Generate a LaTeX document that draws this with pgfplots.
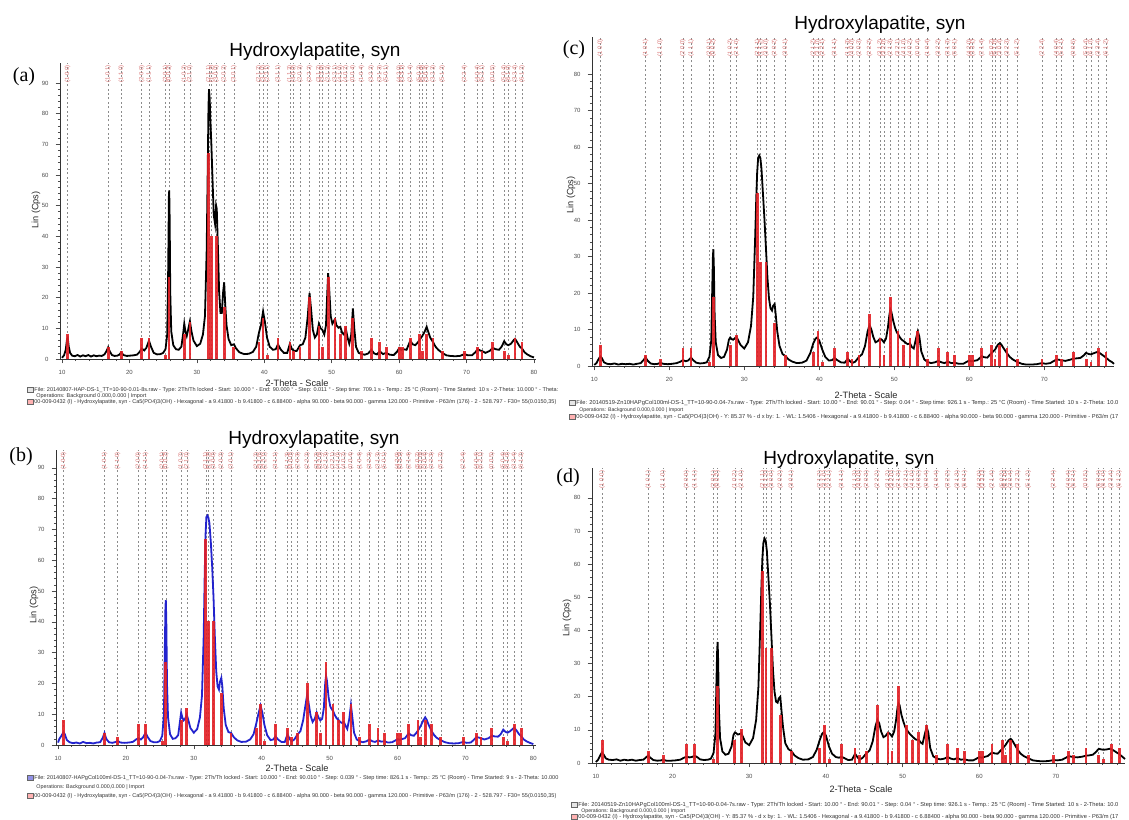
\documentclass[border=0pt]{standalone}
\usepackage{fontspec}
\setmainfont{Liberation Sans}
\newfontfamily\serifface{Liberation Serif}
\usepackage{pgfplots}
\usepackage{pgfplotstable}
\pgfplotsset{compat=1.18}
\definecolor{stickred}{RGB}{226,30,36}
\definecolor{lblred}{RGB}{218,120,120}
\definecolor{curveblue}{RGB}{35,35,205}

% reference pattern 00-009-0432: 2theta, stick heights for panels (a,b), (c), (d)
\pgfplotstableread{
x a c d
10.82 8.0 5.7 7.0
16.84 4.0 2.9 3.5
18.78 2.7 1.9 2.3
21.82 6.7 4.8 5.8
22.90 6.7 4.8 5.8
25.35 1.3 1.0 1.2
25.88 26.8 19.0 23.2
28.13 8.0 5.7 7.0
28.97 12.1 8.6 10.4
31.77 67.0 47.5 58.0
32.20 40.2 28.5 34.8
32.90 40.2 28.5 34.8
34.05 16.8 11.9 14.5
35.48 4.0 2.9 3.5
39.20 5.4 3.8 4.6
39.82 13.4 9.5 11.6
40.45 1.3 1.0 1.2
42.03 6.7 4.8 5.8
43.80 5.4 3.8 4.6
44.37 2.7 1.9 2.3
45.30 4.0 2.9 3.5
46.71 20.1 14.3 17.4
48.10 10.7 7.6 9.3
48.62 4.0 2.9 3.5
49.47 26.8 19.0 23.2
50.49 13.4 9.5 11.6
51.28 8.0 5.7 7.0
52.10 10.7 7.6 9.3
53.14 13.4 9.5 11.6
54.44 2.7 1.9 2.3
55.88 6.7 4.8 5.8
57.13 5.4 3.8 4.6
58.07 4.0 2.9 3.5
60.02 4.0 2.9 3.5
60.46 4.0 2.9 3.5
61.66 6.7 4.8 5.8
63.01 8.0 5.7 7.0
63.44 2.7 1.9 2.3
64.08 8.0 5.7 7.0
65.03 6.7 4.8 5.8
66.39 2.7 1.9 2.3
69.70 2.7 1.9 2.3
71.65 4.0 2.9 3.5
72.29 2.7 1.9 2.3
73.90 5.4 3.8 4.6
75.58 2.7 1.9 2.3
76.22 1.3 1.0 1.2
77.19 6.7 4.8 5.8
78.23 5.4 3.8 4.6
}\sticks

\pgfplotstableread[col sep=comma]{
x,l
10.82,(1 0 0)
16.84,(1 0 1)
18.78,(1 1 0)
21.82,(2 0 0)
22.90,(1 1 1)
25.35,(2 0 1)
25.88,(0 0 2)
28.13,(1 0 2)
28.97,(2 1 0)
31.77,(2 1 1)
32.20,(1 1 2)
32.90,(3 0 0)
34.05,(2 0 2)
35.48,(3 0 1)
39.20,(2 1 2)
39.82,(3 1 0)
40.45,(2 2 1)
42.03,(3 1 1)
43.80,(1 1 3)
44.37,(4 0 0)
45.30,(2 0 3)
46.71,(2 2 2)
48.10,(3 1 2)
48.62,(3 2 0)
49.47,(2 1 3)
50.49,(3 2 1)
51.28,(4 1 0)
52.10,(4 0 2)
53.14,(0 0 4)
54.44,(1 0 4)
55.88,(3 2 2)
57.13,(3 1 3)
58.07,(5 0 1)
60.02,(4 2 0)
60.46,(3 3 1)
61.66,(2 1 4)
63.01,(5 0 2)
63.44,(5 1 0)
64.08,(3 0 4)
65.03,(3 2 3)
66.39,(5 1 2)
69.70,(2 2 4)
71.65,(4 0 4)
72.29,(5 2 1)
73.90,(0 0 5)
75.58,(5 0 4)
76.22,(6 1 0)
77.19,(3 3 4)
78.23,(6 1 2)
}\hkl

\pgfplotstableread{
x y
10.0 0.4
10.3 1.2
10.55 3.0
10.75 6.5
10.85 6.8
11.0 4.0
11.2 2.0
11.5 1.1
11.9 0.9
12.3 1.3
12.7 0.8
13.1 1.2
13.5 0.9
13.9 1.3
14.3 0.8
14.7 1.2
15.1 0.9
15.5 1.1
15.9 1.0
16.3 1.5
16.6 2.6
16.84 3.8
17.1 2.4
17.4 1.3
17.8 1.0
18.2 1.1
18.5 1.4
18.78 2.2
19.1 1.3
19.6 1.0
20.1 1.1
20.6 1.2
21.1 1.4
21.5 2.3
21.82 3.4
22.2 2.8
22.5 3.6
22.9 6.0
23.2 4.0
23.6 2.0
24.1 1.5
24.6 1.6
25.0 2.0
25.35 3.2
25.6 8
25.75 30
25.85 53
25.9 55
25.97 45
26.05 22
26.2 9
26.5 4.5
26.9 3.2
27.3 3.0
27.7 4.0
27.95 8
28.13 11.5
28.3 9
28.5 7.5
28.7 9.5
28.97 12.3
29.2 9
29.5 6
30.0 4.2
30.5 5.0
30.9 8
31.2 14
31.45 35
31.6 60
31.72 82
31.8 88
31.9 85
32.0 78
32.15 70
32.3 60
32.5 47
32.7 44
32.85 50
32.95 49
33.1 38
33.3 22
33.5 15
33.7 15
33.9 22
34.05 25
34.2 18
34.4 11
34.7 6.5
35.1 4.5
35.5 4.8
35.8 3.5
36.3 2.2
37.0 1.6
37.7 1.7
38.3 2.3
38.8 4
39.2 8.5
39.5 11
39.82 15.5
40.1 12
40.4 7
40.8 4
41.3 3.0
41.7 3.2
42.03 4.8
42.4 3.2
42.9 2.0
43.4 2.0
43.8 5.0
44.1 3.2
44.4 2.7
44.8 2.6
45.3 4.5
45.7 4.8
46.1 7
46.45 14
46.71 21.5
46.95 16
47.2 9.5
47.5 7
47.8 8
48.1 11.5
48.35 10
48.62 9.5
48.9 8
49.15 11
49.35 22
49.47 28
49.6 24
49.85 14
50.1 11.5
50.35 12.5
50.49 13
50.7 11
51.0 10.2
51.28 10.5
51.55 8.5
51.8 8
52.1 9.8
52.35 7
52.6 5
52.9 8
53.14 16.5
53.35 10
53.6 4
54.0 2.0
54.44 1.6
54.9 1.4
55.4 1.8
55.88 3.0
56.3 1.8
56.7 1.5
57.13 2.5
57.6 1.6
58.07 2.0
58.6 1.4
59.2 1.3
59.7 2.4
60.02 3.6
60.3 3.0
60.6 3.2
61.1 3.0
61.66 6.0
62.0 4.8
62.4 4.5
62.8 5.5
63.1 6.5
63.44 7.5
63.8 9
64.08 10.5
64.3 9
64.6 7
65.03 5.5
65.4 4
65.8 3.0
66.4 2.0
67.0 1.2
67.6 1.0
68.3 0.9
69.0 1.0
69.7 1.6
70.2 1.2
70.8 1.2
71.3 2.2
71.65 3.2
72.0 2.8
72.29 2.6
72.8 2.0
73.4 2.6
73.9 3.6
74.3 3.2
74.8 3.0
75.2 4.0
75.58 5.8
75.9 4.8
76.2 4.5
76.6 5.0
77.0 6.2
77.19 6.6
77.5 5.5
77.9 4.0
78.23 3.4
78.6 2.2
79.0 1.5
79.5 0.9
80.0 0.5
}\curvea

\pgfplotstableread{
x y
10.0 0.8
10.2 2.0
10.5 3.0
10.8 4.2
11.0 3.5
11.3 1.6
11.7 0.9
12.2 0.6
12.7 0.8
13.2 0.5
13.7 1.0
14.2 0.6
14.7 0.7
15.2 0.5
15.7 0.8
16.2 0.9
16.6 2.4
16.84 3.9
17.1 2.0
17.5 0.9
18.0 0.7
18.5 1.0
18.78 1.3
19.2 0.8
19.8 0.7
20.4 0.8
21.0 1.0
21.5 1.8
21.82 2.2
22.2 1.8
22.5 2.4
22.9 4.0
23.2 2.6
23.6 1.3
24.1 0.9
24.6 0.9
25.0 1.3
25.35 3.0
25.6 10
25.72 30
25.82 45
25.88 47
25.95 40
26.05 20
26.2 9
26.5 3.5
26.9 2.0
27.3 2.2
27.7 3.2
27.95 7.5
28.13 10.5
28.3 9
28.5 8
28.7 8.5
28.97 9.8
29.2 8
29.5 5.5
30.0 4.0
30.5 5.2
30.9 9
31.2 16
31.45 35
31.6 55
31.72 68
31.85 74
32.0 74.5
32.15 73.8
32.3 72
32.5 66
32.7 58
32.9 48
33.1 35
33.3 24
33.5 19
33.7 18
33.85 20.5
34.05 21.8
34.2 19
34.4 12
34.7 6.5
35.1 4.2
35.5 3.9
35.9 2.5
36.4 1.5
37.0 1.0
37.7 1.1
38.3 1.8
38.8 3.5
39.2 7
39.5 10
39.82 12.8
40.1 10.5
40.4 6.5
40.8 3.2
41.3 1.6
41.7 1.8
42.03 2.8
42.4 1.8
42.9 1.0
43.4 1.0
43.8 3.5
44.1 2.0
44.4 1.2
44.8 1.8
45.3 3.5
45.7 4.5
46.1 8
46.45 13
46.71 16.5
46.95 13
47.2 9.5
47.5 7.5
47.8 8.5
48.1 10.5
48.35 9
48.62 8
48.9 8.5
49.15 12
49.35 20
49.47 22.5
49.6 21
49.85 15.5
50.1 12.5
50.35 11.5
50.49 11.2
50.7 10
51.0 8.8
51.28 8.2
51.55 7.5
51.8 7.2
52.1 7.5
52.35 6.2
52.6 5.2
52.9 8.5
53.14 13
53.35 9
53.6 4
54.0 1.8
54.44 1.2
54.9 0.9
55.4 1.2
55.88 1.8
56.3 1.2
56.7 1.0
57.13 1.5
57.6 1.1
58.07 1.2
58.6 0.8
59.2 0.9
59.7 1.5
60.02 1.9
60.3 1.7
60.6 1.9
61.1 2.2
61.66 3.8
62.0 3.2
62.4 3.0
62.8 4.0
63.1 5.0
63.44 6.3
63.8 8.0
64.08 9.0
64.3 8.2
64.6 6.5
65.03 4.5
65.4 3.2
65.8 2.3
66.4 1.5
67.0 0.9
67.6 0.6
68.3 0.5
69.0 0.6
69.7 1.0
70.2 0.7
70.8 0.8
71.3 1.8
71.65 2.6
72.0 2.4
72.29 2.2
72.8 1.8
73.4 2.2
73.9 3.0
74.3 2.8
74.8 2.7
75.2 3.5
75.58 5.0
75.9 4.3
76.2 4.0
76.6 4.5
77.0 5.3
77.19 5.6
77.5 4.8
77.9 3.5
78.23 2.8
78.6 1.8
79.0 1.2
79.5 0.7
80.0 0.3
}\curveb

\pgfplotstableread{
x y
10.0 0.3
10.3 0.8
10.55 1.8
10.8 2.6
11.0 2.2
11.3 1.0
11.7 0.6
12.2 0.5
12.7 0.7
13.2 0.4
13.7 0.6
14.2 0.5
14.7 0.6
15.2 0.4
15.7 0.6
16.2 0.8
16.6 1.7
16.84 2.4
17.1 1.5
17.5 0.7
18.0 0.5
18.5 0.6
18.78 0.9
19.2 0.6
19.8 0.5
20.4 0.6
21.0 0.8
21.5 1.2
21.82 1.6
22.2 1.3
22.5 1.5
22.9 2.3
23.2 1.6
23.6 0.9
24.1 0.7
24.6 0.8
25.0 1.0
25.35 2.5
25.6 7
25.72 20
25.82 30
25.88 32
25.95 27
26.05 14
26.2 6.5
26.5 3
26.9 2.2
27.3 2.5
27.7 4.5
27.95 7.2
28.13 7.8
28.3 7.4
28.5 7.2
28.7 7.5
28.97 8.0
29.2 7.0
29.5 5.8
30.0 4.8
30.5 6.5
30.9 11
31.2 19
31.45 35
31.6 46
31.72 53
31.85 57
32.0 57.7
32.15 57
32.3 54
32.5 47
32.7 40
32.9 32
33.1 24
33.3 18.5
33.5 15.8
33.7 15.2
33.85 16.5
34.05 17
34.2 14
34.4 9.5
34.7 5.5
35.1 3.3
35.5 2.7
35.9 1.8
36.4 1.2
37.0 0.8
37.7 0.9
38.3 1.5
38.8 3.5
39.2 6.2
39.5 7.5
39.7 7.8
40.0 7.0
40.4 4.5
40.8 2.5
41.3 1.5
41.7 1.6
42.03 2.2
42.4 1.6
42.9 1.0
43.4 0.9
43.8 2.0
44.1 1.3
44.4 0.8
44.8 1.2
45.3 2.5
45.7 3.2
46.1 5.5
46.45 9.5
46.71 11.2
46.95 10
47.2 8
47.5 6.5
47.8 6.8
48.1 7.5
48.35 7.2
48.62 6.5
48.9 7.5
49.15 10.5
49.35 14
49.47 15.5
49.6 15
49.85 12.5
50.1 10.5
50.35 9.2
50.49 8.8
50.7 8.0
51.0 7.2
51.28 6.8
51.55 6.3
51.8 6.0
52.1 6.2
52.35 5.2
52.6 4.8
52.9 7.5
53.14 9.5
53.35 8
53.6 4
54.0 1.8
54.44 1.1
54.9 0.8
55.4 1.0
55.88 1.4
56.3 1.0
56.7 0.8
57.13 1.2
57.6 0.8
58.07 0.9
58.6 0.6
59.2 0.6
59.7 1.2
60.02 1.5
60.3 1.3
60.6 1.4
61.1 1.6
61.66 2.7
62.0 2.4
62.4 2.3
62.8 3.2
63.1 3.8
63.44 4.5
63.8 5.8
64.08 6.3
64.3 5.8
64.6 4.8
65.03 3.5
65.4 2.5
65.8 1.8
66.4 1.1
67.0 0.6
67.6 0.4
68.3 0.4
69.0 0.5
69.7 0.8
70.2 0.6
70.8 0.8
71.3 1.4
71.65 1.8
72.0 1.7
72.29 1.6
72.8 1.4
73.4 1.7
73.9 2.0
74.3 2.1
74.8 2.2
75.2 2.8
75.58 3.6
75.9 3.3
76.2 3.2
76.6 3.5
77.0 3.8
77.19 3.8
77.5 3.4
77.9 2.8
78.23 2.3
78.6 1.6
79.0 1.1
79.3 0.6
}\curvec

\pgfplotstableread{
x y
10.0 0.3
10.3 1.0
10.55 2.2
10.8 3.2
11.0 2.6
11.3 1.4
11.7 1.0
12.2 0.9
12.7 1.1
13.2 0.7
13.7 1.0
14.2 0.8
14.7 1.0
15.2 0.7
15.7 0.9
16.2 1.0
16.6 1.8
16.84 2.3
17.1 1.6
17.5 0.9
18.0 0.7
18.5 0.8
18.78 1.0
19.2 0.7
19.8 0.7
20.4 0.8
21.0 1.0
21.5 1.6
21.82 1.9
22.2 1.7
22.5 1.8
22.9 2.2
23.2 1.8
23.6 1.1
24.1 0.9
24.6 1.0
25.0 1.3
25.35 3.0
25.6 9
25.72 24
25.82 34
25.88 36.5
25.95 31
26.05 16
26.2 7.5
26.5 3.5
26.9 2.5
27.3 2.8
27.7 5
27.95 8.5
28.13 9.2
28.3 9.0
28.5 8.6
28.7 8.7
28.97 9.0
29.2 7.8
29.5 6.2
30.0 5.4
30.5 7.5
30.9 13
31.2 23
31.45 42
31.6 54
31.72 62
31.85 66.5
32.0 67.7
32.15 67
32.3 64
32.5 56
32.7 48
32.9 38
33.1 28
33.3 21.5
33.5 18.5
33.7 18.2
33.85 19.5
34.05 20
34.2 16
34.4 11
34.7 6
35.1 4.2
35.5 3.6
35.9 2.3
36.4 1.5
37.0 1.0
37.7 1.1
38.3 1.8
38.8 4
39.2 7
39.5 8.8
39.7 9.3
40.0 8.3
40.4 5
40.8 2.8
41.3 1.8
41.7 1.6
42.03 1.9
42.4 1.5
42.9 0.9
43.4 1.0
43.8 2.8
44.1 1.8
44.4 1.0
44.8 1.6
45.3 3.0
45.7 3.8
46.1 6.5
46.45 11
46.71 13
46.95 12
47.2 9.5
47.5 7.8
47.8 8.2
48.1 9.2
48.35 8.8
48.62 8
48.9 9.5
49.15 13
49.35 17
49.47 18
49.6 17.5
49.85 14.5
50.1 12.5
50.35 10.8
50.49 10.2
50.7 9.5
51.0 8.6
51.28 8.0
51.55 7.4
51.8 7.0
52.1 7.0
52.35 6.2
52.6 5.8
52.9 8.8
53.14 10.8
53.35 9.2
53.6 4.5
54.0 2.0
54.44 1.4
54.9 1.1
55.4 1.3
55.88 1.8
56.3 1.3
56.7 1.1
57.13 1.5
57.6 1.0
58.07 1.1
58.6 0.8
59.2 0.8
59.7 1.4
60.02 1.8
60.3 1.6
60.6 1.8
61.1 2.1
61.66 3.2
62.0 2.9
62.4 2.8
62.8 3.8
63.1 4.5
63.44 5.5
63.8 6.8
64.08 7.3
64.3 6.8
64.6 5.6
65.03 3.9
65.4 2.8
65.8 2.1
66.4 1.4
67.0 0.8
67.6 0.6
68.3 0.5
69.0 0.6
69.7 0.9
70.2 0.8
70.8 1.0
71.3 1.6
71.65 2.1
72.0 1.9
72.29 1.8
72.8 1.7
73.4 1.9
73.9 2.2
74.3 2.3
74.8 2.5
75.2 3.3
75.58 4.3
75.9 4.1
76.2 4.0
76.6 4.1
77.0 4.3
77.19 4.2
77.5 3.8
77.9 3.2
78.23 2.7
78.6 2.0
79.0 1.2
}\curved

\pgfplotsset{
  xrd/.style={
    scale only axis, clip=false, enlargelimits=false,
    axis x line*=bottom, axis y line*=left,
    axis line style={black!80, line width=0.4pt, -},
    xtick={10,20,...,80},
    minor x tick num=4, minor y tick num=4,
    tick style={black!70, line width=0.3pt},
    major tick length=2.2pt, minor tick length=1.1pt,
    tick align=outside,
    ticklabel style={font=\fontsize{3}{3.5}\selectfont, text=black!70},
    /pgf/number format/assume math mode=true,
    extra x ticks={10.82,16.84,18.78,21.82,22.90,25.35,25.88,28.13,28.97,31.77,32.20,32.90,34.05,35.48,39.20,39.82,40.45,42.03,43.80,44.37,45.30,46.71,48.10,48.62,49.47,50.49,51.28,52.10,53.14,54.44,55.88,57.13,58.07,60.02,60.46,61.66,63.01,63.44,64.08,65.03,66.39,69.70,71.65,72.29,73.90,75.58,76.22,77.19,78.23},
    extra x tick labels={},
    extra x tick style={grid=major, major tick length=0pt},
    major grid style={black!45, line width=0.3pt, dash pattern=on 1pt off 1.2pt},
  },
  sticks/.style={ycomb, stickred, line width=1.4pt, mark=none, opacity=0.9},
  hkllbl/.style={draw=none, mark=none, nodes near coords, point meta=explicit symbolic,
    every node near coord/.append style={anchor=east, rotate=90, inner sep=0.3pt,
      font=\fontsize{3}{3.4}\selectfont, text=lblred}},
}

\newcommand{\footicon}[1]{\tikz[baseline=-1.2pt]\draw[black!60, fill=#1, line width=0.2pt] (0,-2.4pt) rectangle (2.6pt,0.2pt);}

\begin{document}
\begin{tikzpicture}
\path[use as bounding box] (0,0) rectangle (564.5pt,-409.5pt);

% ---------- (a)
\begin{axis}[xrd, at={(30pt,-179.5pt)}, anchor=south west, width=238pt, height=148pt,
  xmin=9.7, xmax=80.3, ymin=0, ymax=96.5, ytick={0,10,...,90}]
\addplot[black, line width=0.9pt] table {\curvea};
\addplot[sticks] table[x=x, y=a] {\sticks};
\addplot[hkllbl] table[x=x, y expr=96, meta=l] {\hkl};
\end{axis}

% ---------- (b)
\begin{axis}[xrd, at={(28pt,-372.5pt)}, anchor=south west, width=240pt, height=147.5pt,
  xmin=9.7, xmax=80.4, ymin=0, ymax=95.8, ytick={0,10,...,90}]
\addplot[curveblue, line width=0.9pt] table {\curveb};
\addplot[sticks] table[x=x, y=a] {\sticks};
\addplot[hkllbl] table[x=x, y expr=95.3, meta=l] {\hkl};
\end{axis}

% ---------- (c)
\begin{axis}[xrd, at={(296pt,-183pt)}, anchor=south west, width=261pt, height=164.5pt,
  xmin=9.7, xmax=79.3, ymin=0, ymax=90.2, ytick={0,10,...,80}]
\addplot[black, line width=0.9pt] table {\curvec};
\addplot[sticks] table[x=x, y=c] {\sticks};
\addplot[hkllbl] table[x=x, y expr=89.8, meta=l] {\hkl};
\end{axis}

% ---------- (d)
\begin{axis}[xrd, at={(296pt,-381.5pt)}, anchor=south west, width=266.5pt, height=147.5pt,
  xmin=9.5, xmax=79.0, ymin=0, ymax=89, ytick={0,10,...,80}]
\addplot[black, line width=0.9pt] table {\curved};
\addplot[sticks] table[x=x, y=d] {\sticks};
\addplot[hkllbl] table[x=x, y expr=88.5, meta=l] {\hkl};
\end{axis}

\begin{scope}[x=0.5pt, y=-0.5pt]
% titles
\node[font=\fontsize{9.5}{11}\selectfont] at (315,52) {Hydroxylapatite, syn};
\node[font=\fontsize{9.5}{11}\selectfont] at (314,440) {Hydroxylapatite, syn};
\node[font=\fontsize{9.5}{11}\selectfont] at (880,25) {Hydroxylapatite, syn};
\node[font=\fontsize{9.5}{11}\selectfont] at (849,460) {Hydroxylapatite, syn};
% panel letters
\node[font=\serifface\fontsize{10}{12}\selectfont] at (24,77) {(a)};
\node[font=\serifface\fontsize{10}{12}\selectfont] at (21,457) {(b)};
\node[font=\serifface\fontsize{10}{12}\selectfont] at (574,50) {(c)};
\node[font=\serifface\fontsize{10}{12}\selectfont] at (568,478) {(d)};
% x labels
\node[font=\fontsize{4.6}{5}\selectfont, text=black!85] at (297,383) {2-Theta - Scale};
\node[font=\fontsize{4.6}{5}\selectfont, text=black!85] at (297,768) {2-Theta - Scale};
\node[font=\fontsize{4.6}{5}\selectfont, text=black!85] at (866,395) {2-Theta - Scale};
\node[font=\fontsize{4.6}{5}\selectfont, text=black!85] at (861,789) {2-Theta - Scale};
% y labels
\node[rotate=90, font=\fontsize{4.6}{5}\selectfont, text=black!85] at (36,210) {Lin (Cps)};
\node[rotate=90, font=\fontsize{4.6}{5}\selectfont, text=black!85] at (34,605) {Lin (Cps)};
\node[rotate=90, font=\fontsize{4.6}{5}\selectfont, text=black!85] at (571,195) {Lin (Cps)};
\node[rotate=90, font=\fontsize{4.6}{5}\selectfont, text=black!85] at (567,618) {Lin (Cps)};
% footers (a)
\node[anchor=west, inner sep=0] at (27,390) {\footicon{black!10}};
\node[anchor=west, inner sep=0, text=black!80] at (34,390) {\resizebox{262pt}{!}{\fontsize{3}{3.6}\selectfont File: 20140807-HAP-DS-1\_TT=10-90-0.01-8s.raw - Type: 2Th/Th locked - Start: 10.000 ° - End: 90.000 ° - Step: 0.011 ° - Step time: 709.1 s - Temp.: 25 °C (Room) - Time Started: 10 s - 2-Theta: 10.000 ° - Theta:}};
\node[anchor=west, inner sep=0, text=black!80] at (36,396) {\resizebox{55pt}{!}{\fontsize{3}{3.6}\selectfont Operations: Background 0.000,0.000 | Import}};
\node[anchor=west, inner sep=0] at (27,402) {\footicon{red!30}};
\node[anchor=west, inner sep=0, text=black!80] at (34,402) {\resizebox{261pt}{!}{\fontsize{3}{3.6}\selectfont 00-009-0432 (I) - Hydroxylapatite, syn - Ca5(PO4)3(OH) - Hexagonal - a 9.41800 - b 9.41800 - c 6.88400 - alpha 90.000 - beta 90.000 - gamma 120.000 - Primitive - P63/m (176) - 2 - 528.797 - F30= 55(0.0150,35)}};
% footers (b)
\node[anchor=west, inner sep=0] at (27,778) {\footicon{curveblue!50}};
\node[anchor=west, inner sep=0, text=black!80] at (34,778) {\resizebox{262pt}{!}{\fontsize{3}{3.6}\selectfont File: 20140807-HAPgCol100ml-DS-1\_TT=10-90-0.04-7s.raw - Type: 2Th/Th locked - Start: 10.000 ° - End: 90.010 ° - Step: 0.039 ° - Step time: 826.1 s - Temp.: 25 °C (Room) - Time Started: 9 s - 2-Theta: 10.000}};
\node[anchor=west, inner sep=0, text=black!80] at (36,787) {\resizebox{54pt}{!}{\fontsize{3}{3.6}\selectfont Operations: Background 0.000,0.000 | Import}};
\node[anchor=west, inner sep=0] at (27,796) {\footicon{red!30}};
\node[anchor=west, inner sep=0, text=black!80] at (34,796) {\resizebox{261pt}{!}{\fontsize{3}{3.6}\selectfont 00-009-0432 (I) - Hydroxylapatite, syn - Ca5(PO4)3(OH) - Hexagonal - a 9.41800 - b 9.41800 - c 6.88400 - alpha 90.000 - beta 90.000 - gamma 120.000 - Primitive - P63/m (176) - 2 - 528.797 - F30= 55(0.0150,35)}};
% footers (c)
\node[anchor=west, inner sep=0] at (569,403) {\footicon{black!10}};
\node[anchor=west, inner sep=0, text=black!80] at (576,403) {\resizebox{271pt}{!}{\fontsize{3}{3.6}\selectfont File: 20140519-Zn10HAPgCol100ml-DS-1\_TT=10-90-0.04-7s.raw - Type: 2Th/Th locked - Start: 10.00 ° - End: 90.01 ° - Step: 0.04 ° - Step time: 926.1 s - Temp.: 25 °C (Room) - Time Started: 10 s - 2-Theta: 10.0}};
\node[anchor=west, inner sep=0, text=black!80] at (579,410) {\resizebox{52pt}{!}{\fontsize{3}{3.6}\selectfont Operations: Background 0.000,0.000 | Import}};
\node[anchor=west, inner sep=0] at (569,417) {\footicon{red!30}};
\node[anchor=west, inner sep=0, text=black!80] at (576,417) {\resizebox{271pt}{!}{\fontsize{3}{3.6}\selectfont 00-009-0432 (I) - Hydroxylapatite, syn - Ca5(PO4)3(OH) - Y: 85.37 \% - d x by: 1. - WL: 1.5406 - Hexagonal - a 9.41800 - b 9.41800 - c 6.88400 - alpha 90.000 - beta 90.000 - gamma 120.000 - Primitive - P63/m (17}};
% footers (d)
\node[anchor=west, inner sep=0] at (571,805) {\footicon{black!10}};
\node[anchor=west, inner sep=0, text=black!80] at (578,805) {\resizebox{270pt}{!}{\fontsize{3}{3.6}\selectfont File: 20140519-Zn10HAPgCol100ml-DS-1\_TT=10-90-0.04-7s.raw - Type: 2Th/Th locked - Start: 10.00 ° - End: 90.01 ° - Step: 0.04 ° - Step time: 926.1 s - Temp.: 25 °C (Room) - Time Started: 10 s - 2-Theta: 10.0}};
\node[anchor=west, inner sep=0, text=black!80] at (581,811) {\resizebox{52pt}{!}{\fontsize{3}{3.6}\selectfont Operations: Background 0.000,0.000 | Import}};
\node[anchor=west, inner sep=0] at (571,817) {\footicon{red!30}};
\node[anchor=west, inner sep=0, text=black!80] at (578,817) {\resizebox{270pt}{!}{\fontsize{3}{3.6}\selectfont 00-009-0432 (I) - Hydroxylapatite, syn - Ca5(PO4)3(OH) - Y: 85.37 \% - d x by: 1. - WL: 1.5406 - Hexagonal - a 9.41800 - b 9.41800 - c 6.88400 - alpha 90.000 - beta 90.000 - gamma 120.000 - Primitive - P63/m (17}};
\end{scope}
\end{tikzpicture}
\end{document}
